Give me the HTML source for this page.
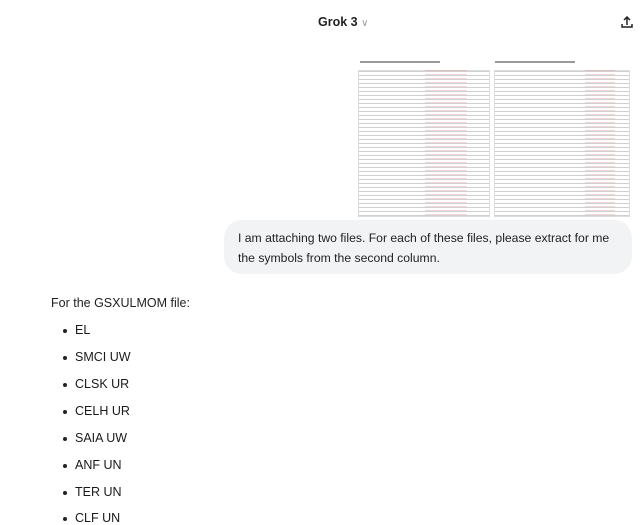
<!DOCTYPE html>
<html><head><style>
*{margin:0;padding:0;box-sizing:border-box}
body{width:640px;height:523px;background:#fff;font-family:"Liberation Sans",sans-serif;color:#1a1a1a;position:relative;overflow:hidden}
.t{position:absolute;white-space:nowrap}
.img{position:absolute;left:355px;top:58px;width:277px;height:161px;background:#fff;border-radius:8px 8px 0 0;overflow:hidden}
.tbl{position:absolute;top:12px;height:147px;background:#fff;border:1px solid #ddd}
.tbl::before{content:"";position:absolute;inset:0;background:
repeating-linear-gradient(to bottom,rgba(120,120,120,.35) 0 1px,transparent 1px 4px);}
.red{position:absolute;top:12px;height:147px;background:repeating-linear-gradient(to bottom,rgba(220,140,140,.35) 0 1px,transparent 1px 4px)}
.ttl{position:absolute;top:3px;height:2px;background:#999}
.bub{position:absolute;left:224px;top:220px;width:408px;height:54px;background:#f1f3f4;border-radius:18px}
li{position:absolute;left:63px;list-style:none;font-size:12.5px}
li::before{content:"";position:absolute;left:0;top:6px;width:4px;height:4px;border-radius:50%;background:#222}
li span{position:absolute;left:12px;top:0;white-space:nowrap}
</style></head><body>
<div class="t" style="left:318px;top:15px;font-size:12.5px;font-weight:bold;color:#222">Grok 3 <span style="color:#999;font-weight:normal;font-size:10px">&#8744;</span></div>
<svg style="position:absolute;left:620px;top:15px" width="14" height="14" viewBox="0 0 14 14"><path d="M7 10V2M4 5l3-3 3 3M2 9v3h10V9" fill="none" stroke="#222" stroke-width="1.5"/></svg>
<div class="img">
 <div class="ttl" style="left:5px;width:80px"></div>
 <div class="ttl" style="left:140px;width:80px"></div>
 <div class="tbl" style="left:3px;width:132px"></div>
 <div class="red" style="left:70px;width:42px"></div>
 <div class="tbl" style="left:139px;width:136px"></div>
 <div class="red" style="left:230px;width:30px"></div>
</div>
<div class="bub"></div>
<div class="t" style="left:238px;top:231px;font-size:12.2px;color:#222">I am attaching two files. For each of these files, please extract for me</div>
<div class="t" style="left:238px;top:251px;font-size:12.2px;color:#222">the symbols from the second column.</div>
<div class="t" style="left:51px;top:296px;font-size:12.5px;color:#222">For the GSXULMOM file:</div>
<ul>
<li style="top:323px"><span>EL</span></li>
<li style="top:350px"><span>SMCI UW</span></li>
<li style="top:377px"><span>CLSK UR</span></li>
<li style="top:404px"><span>CELH UR</span></li>
<li style="top:431px"><span>SAIA UW</span></li>
<li style="top:458px"><span>ANF UN</span></li>
<li style="top:485px"><span>TER UN</span></li>
<li style="top:511px"><span>CLF UN</span></li>
</ul>
</body></html>
